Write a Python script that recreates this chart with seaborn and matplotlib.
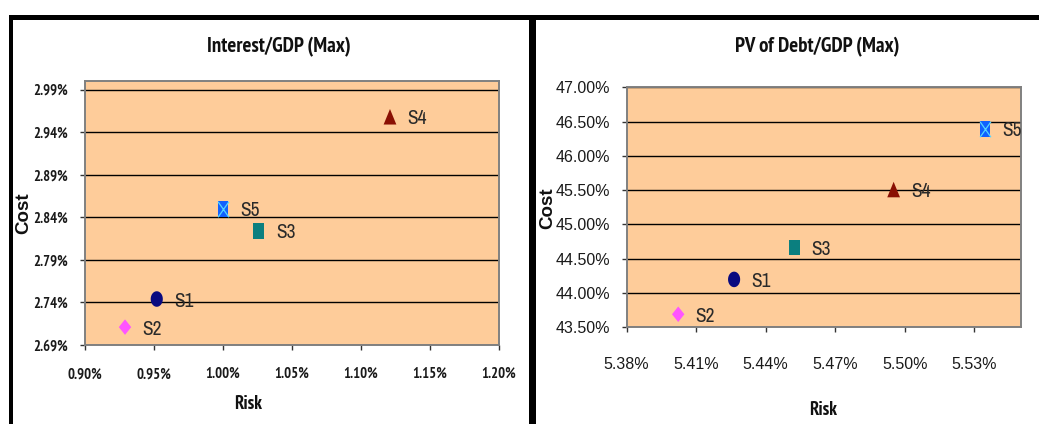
import numpy as np
import pandas as pd
import matplotlib
matplotlib.use("Agg")
import matplotlib.pyplot as plt
from matplotlib.path import Path
from matplotlib.patches import Rectangle
from matplotlib import font_manager
import seaborn as sns

# ---- data (all values in percent) ----
scenarios = ["S1", "S2", "S3", "S4", "S5"]

# Interest/GDP (Max)
interest_risk = [0.952, 0.929, 1.026, 1.121, 1.000]
interest_cost = [2.744, 2.711, 2.824, 2.958, 2.850]
interest_xticks = [0.90, 0.95, 1.00, 1.05, 1.10, 1.15, 1.20]
interest_yticks = [2.69, 2.74, 2.79, 2.84, 2.89, 2.94, 2.99]

# PV of Debt/GDP (Max)
pv_risk = [5.4264, 5.4023, 5.4524, 5.4952, 5.5346]
pv_cost = [44.195, 43.686, 44.660, 45.507, 46.393]
pv_xticks = [5.38, 5.41, 5.44, 5.47, 5.50, 5.53]
pv_yticks = [43.5, 44.0, 44.5, 45.0, 45.5, 46.0, 46.5, 47.0]

FONTS = font_manager.fontManager.ttflist
NARROW_CANDIDATES = ["Liberation Sans Narrow", "Arial Narrow", "Archivo Narrow",
                     "PT Sans Narrow", "Roboto Condensed", "Fira Sans Condensed",
                     "IBM Plex Sans Condensed", "Asap Condensed",
                     "Sofia Sans Condensed"]


def pick(names, min_weight=0):
    for n in names:
        for f in FONTS:
            if f.name == n and f.style == "normal" and (
                    isinstance(f.weight, str) or f.weight >= min_weight):
                if min_weight and isinstance(f.weight, str) and f.weight != "bold":
                    continue
                return n
    return None


sns.set_theme(style="white")
REGULAR = pick(["Liberation Sans", "Arial"]) or "DejaVu Sans"
NARROW = pick(NARROW_CANDIDATES) or REGULAR
NARROW_BOLD = pick(NARROW_CANDIDATES, 600) or REGULAR
plt.rcParams["font.family"] = [REGULAR, "DejaVu Sans"]

# marker shapes
theta = np.linspace(0, 2 * np.pi, 64)
ellipse = Path(np.column_stack([0.78 * np.cos(theta), np.sin(theta)]), closed=True)
diamond = Path([(0, 1), (0.8, 0), (0, -1), (-0.8, 0), (0, 1)], closed=True)
rect = Path([(-0.7, -1), (0.7, -1), (0.7, 1), (-0.7, 1), (-0.7, -1)], closed=True)
tri = Path([(0, 1), (0.82, -1), (-0.82, -1), (0, 1)], closed=True)
hourglass = Path([(-0.7, -1), (0.7, 1), (-0.7, 1), (0.7, -1)],
                 [Path.MOVETO, Path.LINETO, Path.MOVETO, Path.LINETO])

markers = {"S1": ellipse, "S2": diamond, "S3": rect, "S4": tri, "S5": rect}
palette = {"S1": "#0a0a80", "S2": "#ff55ff", "S3": "#0b7f7f",
           "S4": "#8a1004", "S5": "#1060ff"}

PEACH = "#FECC9A"
W, H = 1039, 424
MS = 125

fig = plt.figure(figsize=(W / 100, H / 100), dpi=100)
fig.patch.set_facecolor("white")


def panel(rect_px, risk, cost, xlim, ylim, xticks, yticks, title, tick_style,
          title_pos, cost_pos, risk_pos, xpad, ypad):
    x0, x1, top, bottom = rect_px
    ax = fig.add_axes([x0 / W, 1 - bottom / H, (x1 - x0) / W, (bottom - top) / H])
    ax.set_facecolor(PEACH)
    df = pd.DataFrame({"Scenario": scenarios, "Risk": risk, "Cost": cost})
    sns.scatterplot(data=df, x="Risk", y="Cost", hue="Scenario", style="Scenario",
                    palette=palette, markers=markers, s=MS, linewidth=0,
                    legend=False, ax=ax, zorder=4)
    s5 = df[df["Scenario"] == "S5"]
    ax.scatter(s5["Risk"], s5["Cost"], marker=hourglass, s=MS,
               color="#55d5ff", linewidths=0.9, zorder=5)
    for _, r in df.iterrows():
        t = ax.annotate(r["Scenario"], (r["Risk"], r["Cost"]), xytext=(12.5, 0),
                        textcoords="offset points", ha="left",
                        va="center_baseline", fontsize=14, family=NARROW,
                        color="#2a2a2a", zorder=6)
        t.set_clip_path(ax.patch)

    ax.set_xlim(*xlim)
    ax.set_ylim(*ylim)
    ax.set_xticks(xticks)
    ax.set_yticks(yticks)
    ax.set_xticklabels([f"{v:.2f}%" for v in xticks])
    ax.set_yticklabels([f"{v:.2f}%" for v in yticks])
    for lab in ax.get_xticklabels() + ax.get_yticklabels():
        lab.set(**tick_style)
    ax.tick_params(axis="both", which="major", direction="out", length=3.5,
                   width=1, color="#333333", bottom=True, left=True)
    ax.tick_params(axis="x", pad=xpad)
    ax.tick_params(axis="y", pad=ypad)

    ax.yaxis.grid(True, color="black", linewidth=1.0, zorder=1)
    ax.xaxis.grid(False)
    ax.set_axisbelow(True)
    for side in ["left", "bottom", "top", "right"]:
        ax.spines[side].set_visible(True)
        ax.spines[side].set_color("#808080")
        ax.spines[side].set_linewidth(1.4)

    ax.set_title(title, fontsize=15, fontweight="bold", family=NARROW_BOLD,
                 color="#111111", va="center", pad=0, y=title_pos[1])
    ax.title.set_x(title_pos[0])
    ax.set_xlabel("Risk", fontsize=13.5, fontweight="bold", family=NARROW_BOLD,
                  color="#111111", va="center")
    ax.set_ylabel("Cost", fontsize=13.5, fontweight="bold", color="#111111",
                  va="center")
    ax.xaxis.set_label_coords(*risk_pos)
    ax.yaxis.set_label_coords(*cost_pos)
    return ax


panel((85, 499, 81, 345), interest_risk, interest_cost, (0.90, 1.20), (2.69, 3.00),
      interest_xticks, interest_yticks, "Interest/GDP (Max)",
      dict(fontsize=10.5, fontweight="bold", family=NARROW_BOLD, color="#1a1a1a"),
      title_pos=(0.468, 1.129), cost_pos=(-0.149, 0.5), risk_pos=(0.393, -0.225),
      xpad=12.5, ypad=8.5)

panel((626.5, 1020.7, 87.3, 327), pv_risk, pv_cost, (5.38, 5.55), (43.5, 47.0),
      pv_xticks, pv_yticks, "PV of Debt/GDP (Max)",
      dict(fontsize=11.5, family=REGULAR, color="#1a1a1a"),
      title_pos=(0.484, 1.169), cost_pos=(-0.201, 0.495), risk_pos=(0.499, -0.345),
      xpad=18, ypad=8)


# panel frames
def band(x, y, w, h):
    fig.add_artist(Rectangle((x / W, 1 - (y + h) / H), w / W, h / H,
                             transform=fig.transFigure, color="black", lw=0,
                             zorder=10))


band(9, 15, W - 9, 5)
band(9, 15, 3.5, H - 15)
band(529, 15, 7, H - 15)

fig.savefig("out.png", dpi=100, facecolor="white")
